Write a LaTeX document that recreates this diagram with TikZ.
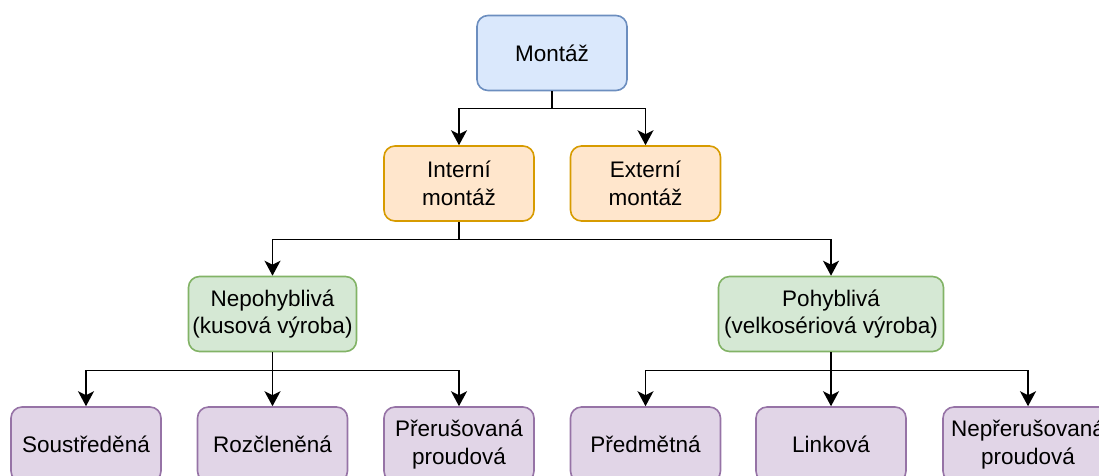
\documentclass[tikz,border=0pt]{standalone}
\usepackage{fontspec}
\setmainfont{Liberation Sans}
\usetikzlibrary{arrows.meta}
\definecolor{blueFill}{HTML}{DAE8FC}\definecolor{blueLine}{HTML}{6C8EBF}
\definecolor{orangeFill}{HTML}{FFE6CC}\definecolor{orangeLine}{HTML}{D79B00}
\definecolor{greenFill}{HTML}{D5E8D4}\definecolor{greenLine}{HTML}{82B366}
\definecolor{purpleFill}{HTML}{E1D5E7}\definecolor{purpleLine}{HTML}{9673A6}
\begin{document}
\begin{tikzpicture}[x=1pt,y=-1pt,
  box/.style={draw, line width=1.6pt, rounded corners=11pt, minimum width=150pt,
    minimum height=75pt, align=center, inner sep=2pt,
    font=\fontsize{22.5}{27.5}\selectfont},
  bluebox/.style={box, fill=blueFill, draw=blueLine},
  orangebox/.style={box, fill=orangeFill, draw=orangeLine},
  greenbox/.style={box, fill=greenFill, draw=greenLine},
  purplebox/.style={box, fill=purpleFill, draw=purpleLine},
  conn/.style={line width=1.9pt, -{Stealth[length=15pt,width=16pt,inset=4pt]}}]
\useasboundingbox (0,0) rectangle (1099,475);

% level 1
\node[bluebox] (mont) at (552,53) {Montáž};
% level 2
\node[orangebox] (int) at (459,183.5) {Interní\\montáž};
\node[orangebox] (ext) at (645.5,183.5) {Externí\\montáž};
% level 3
\node[greenbox, minimum width=168pt] (nep) at (272.5,314) {Nepohyblivá\\(kusová výroba)};
\node[greenbox, minimum width=225pt] (poh) at (831,314) {Pohyblivá\\(velkosériová výroba)};
% level 4
\node[purplebox] (sou) at (86,444.5) {Soustředěná};
\node[purplebox] (roz) at (272.5,444.5) {Rozčleněná};
\node[purplebox] (pre) at (459,444.5) {Přerušovaná\\proudová};
\node[purplebox] (pred) at (645.5,444.5) {Předmětná};
\node[purplebox] (lin) at (831,444.5) {Linková};
\node[purplebox, minimum width=170pt] (npr) at (1028,444.5) {Nepřerušovaná\\proudová};

% junctions of the tree connectors
\coordinate (j1) at (552,108.5);
\coordinate (j2) at (459,239.5);
\coordinate (j3) at (272.5,370.5);
\coordinate (j4) at (831,370.5);

\draw[conn] (mont.south) -- (j1) -| (int.north);
\draw[conn] (j1) -| (ext.north);

\draw[conn] (int.south) -- (j2) -| (nep.north);
\draw[conn] (j2) -| (poh.north);

\draw[conn] (nep.south) -- (j3) -| (sou.north);
\draw[conn] (j3) -- (roz.north);
\draw[conn] (j3) -| (pre.north);

\draw[conn] (poh.south) -- (j4) -| (pred.north);
\draw[conn] (j4) -- (lin.north);
\draw[conn] (j4) -| (npr.north);
\end{tikzpicture}
\end{document}
